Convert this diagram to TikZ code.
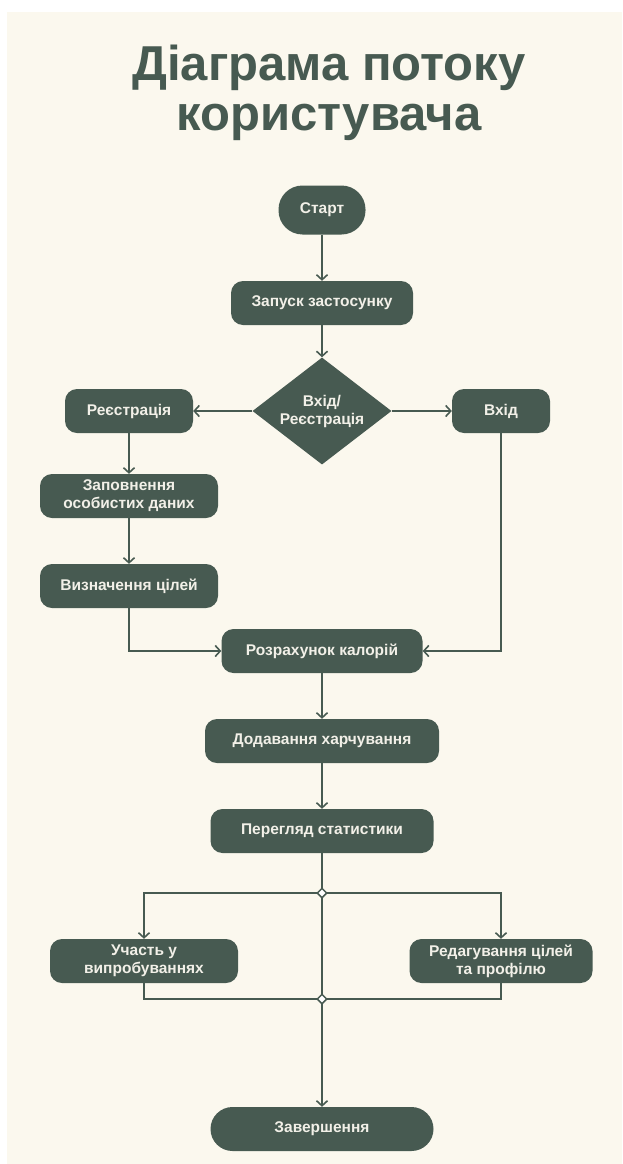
\documentclass[tikz,border=0pt]{standalone}
\usepackage{fontspec}
\setmainfont{Liberation Sans}
\usepackage{tikz}
\usetikzlibrary{arrows.meta, shapes.geometric, positioning}
\definecolor{flowgreen}{RGB}{71,90,81}
\definecolor{flowbg}{RGB}{251,248,238}
\definecolor{flowtext}{RGB}{242,240,232}
\tikzset{
	box/.style={rectangle, rounded corners=12pt, fill=flowgreen, text=flowtext, font=\fontsize{15.5}{18}\selectfont\bfseries, align=center, minimum height=44pt, inner sep=0pt},
	pill/.style={box, rounded corners=22pt},
	choicebox/.style={diamond, fill=flowgreen, text=flowtext, font=\fontsize{15.5}{18}\selectfont\bfseries, align=center, minimum width=139pt, minimum height=107pt, inner sep=-6pt, aspect=1.3},
	joint/.style={diamond, draw=flowgreen, fill=white, line width=1.5pt, minimum size=10pt, inner sep=0pt},
	link/.style={draw=flowgreen, line width=2pt},
	flow/.style={link, -{Straight Barb[length=5pt, width=11pt, line width=1.6pt]}}
}
\begin{document}
\begin{tikzpicture}[x=1pt, y=-1pt]
		\useasboundingbox (0,0) rectangle (622,1164);
		\fill[flowbg] (7,12) rectangle (622,1164);
		\node[text=flowgreen, font=\fontsize{49}{50}\selectfont\bfseries, align=center] (title) at (329,93) {Діаграма потоку\\користувача};
		\node[pill, minimum width=87pt, minimum height=49pt, rounded corners=24pt] (start) at (322,210) {Старт};
		\node[box, minimum width=182pt] (launch) at (322,303) {Запуск застосунку};
		\node[choicebox] (choice) at (322,411) {Вхід/\\Реєстрація};
		\node[box, minimum width=128pt] (reg) at (129,411) {Реєстрація};
		\node[box, minimum width=98pt] (login) at (501,411) {Вхід};
		\node[box, minimum width=178pt] (fill) at (129,496) {Заповнення\\особистих даних};
		\node[box, minimum width=178pt] (goals) at (129,586) {Визначення цілей};
		\node[box, minimum width=201pt] (calc) at (322,651) {Розрахунок калорій};
		\node[box, minimum width=234pt] (food) at (322,741) {Додавання харчування};
		\node[box, minimum width=223pt] (stats) at (322,831) {Перегляд статистики};
		\node[box, minimum width=188pt] (chal) at (144,961) {Участь у\\випробуваннях};
		\node[box, minimum width=183pt] (edit) at (501,961) {Редагування цілей\\та профілю};
		\node[pill, minimum width=223pt] (finish) at (322,1129) {Завершення};
		\coordinate (j1) at (322,893);
		\coordinate (j2) at (322,999);
		\draw[flow] (start) -- (launch);
		\draw[flow] (launch) -- (choice);
		\draw[flow] (choice) -- (reg);
		\draw[flow] (choice) -- (login);
		\draw[flow] (reg) -- (fill);
		\draw[flow] (fill) -- (goals);
		\draw[flow] (goals) |- (calc);
		\draw[flow] (login) |- (calc);
		\draw[flow] (calc) -- (food);
		\draw[flow] (food) -- (stats);
		\draw[link] (stats) -- (j1) -- (j2);
		\draw[flow] (j1) -| (chal);
		\draw[flow] (j1) -| (edit);
		\draw[link] (chal) |- (j2);
		\draw[link] (edit) |- (j2);
		\draw[flow] (j2) -- (finish);
		\node[joint] (k1) at (j1) {};
		\node[joint] (k2) at (j2) {};
	\end{tikzpicture}
\end{document}
